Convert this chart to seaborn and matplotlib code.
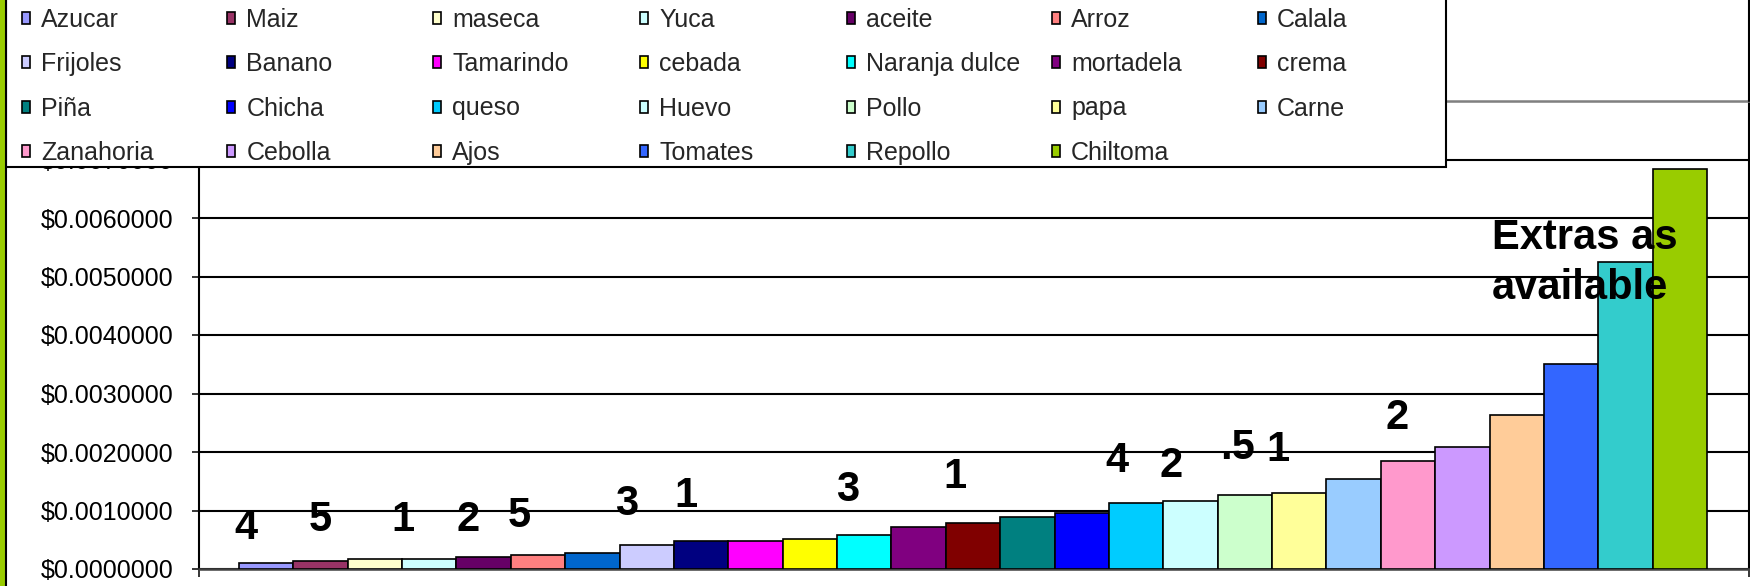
import numpy as np
import pandas as pd
import matplotlib
matplotlib.use('Agg')
import matplotlib.pyplot as plt
import seaborn as sns
from matplotlib.patches import Patch, Rectangle
from matplotlib.lines import Line2D
from matplotlib.ticker import FuncFormatter, FixedLocator

# ---------------- data ----------------
categories = ["Azucar", "Maiz", "maseca", "Yuca", "aceite", "Arroz", "Calala",
              "Frijoles", "Banano", "Tamarindo", "cebada", "Naranja dulce", "mortadela", "crema",
              "Piña", "Chicha", "queso", "Huevo", "Pollo", "papa", "Carne",
              "Zanahoria", "Cebolla", "Ajos", "Tomates", "Repollo", "Chiltoma"]
values = [0.000105, 0.000142, 0.000170, 0.000170, 0.000210, 0.000244, 0.000278,
          0.000415, 0.000477, 0.000477, 0.000511, 0.000575, 0.000715, 0.000783,
          0.000886, 0.000960, 0.001130, 0.001160, 0.001260, 0.001300, 0.001530,
          0.001850, 0.002090, 0.002630, 0.003500, 0.005250, 0.006830]
colors = ["#9999FF", "#993366", "#FFFFCC", "#CCFFFF", "#660066", "#FF8080", "#0066CC",
          "#CCCCFF", "#000080", "#FF00FF", "#FFFF00", "#00FFFF", "#800080", "#800000",
          "#008080", "#0000FF", "#00CCFF", "#CCFFFF", "#CCFFCC", "#FFFF99", "#99CCFF",
          "#FF99CC", "#CC99FF", "#FFCC99", "#3366FF", "#33CCCC", "#99CC00"]
y_ticks = [0.000, 0.001, 0.002, 0.003, 0.004, 0.005, 0.006, 0.007, 0.008]
y_tick_labels = ["$0.0000000", "$0.0010000", "$0.0020000", "$0.0030000", "$0.0040000",
                 "$0.0050000", "$0.0060000", "$0.0070000", ""]
ann_labels = ["4", "5", "1", "2", "5", "3", "1", "3", "1", "4", "2", ".5", "1", "2"]
ann_x = [-0.37, 1.0, 2.52, 3.72, 4.66, 6.636, 7.721, 10.70, 12.67, 15.65, 16.64, 17.86, 18.61, 20.80]
ann_y = [0.000700, 0.000840, 0.000840, 0.000840, 0.000905, 0.001111, 0.001248, 0.001350,
         0.001573, 0.001846, 0.001761, 0.002068, 0.002034, 0.002581]
extra_text = "Extras as\navailable"
extra_x = 22.55
extra_y = 0.005230

# ---------------- style ----------------
sns.set_theme(style='white')
plt.rcParams['font.family'] = ['Liberation Sans', 'DejaVu Sans']

W, H = 1750, 586
fig = plt.figure(figsize=(W / 100, H / 100), dpi=100)
fig.patch.set_facecolor('white')

ax_left, ax_right, ax_top, ax_bottom = 199, 1749, 101, 569
ax = fig.add_axes([ax_left / W, 1 - ax_bottom / H, (ax_right - ax_left) / W, (ax_bottom - ax_top) / H])

df = pd.DataFrame({'item': categories, 'cost': values})
sns.barplot(data=df, x='item', y='cost', hue='item', order=categories, hue_order=categories,
            palette=dict(zip(categories, colors)), saturation=1, width=1, dodge=False,
            edgecolor='black', linewidth=1.2, legend=False, ax=ax, zorder=3)

bar_px = (1707 - 239) / 27.0
x0 = -0.5 - (239 - ax_left) / bar_px
x1 = 26.5 + (ax_right - 1707) / bar_px
ax.set_xlim(x0, x1)
ax.set_ylim(0, 0.008)

ax.set_yticks(y_ticks)
ax.set_yticklabels(y_tick_labels)
ax.set_xticks([x0, x1])
ax.set_xticklabels(["", ""])
ax.set_xlabel("")
ax.set_ylabel("")
ax.tick_params(axis='y', direction='out', length=5, width=1.1, color='black',
               labelsize=18, labelcolor='black', pad=13.5, left=True)
ax.tick_params(axis='x', direction='out', length=6, width=1.1, color='black', bottom=True)
ax.set_axisbelow(True)
ax.yaxis.grid(True, color='black', linewidth=1.5)
ax.xaxis.grid(False)

for s in ['left', 'right']:
    ax.spines[s].set_color('black')
    ax.spines[s].set_linewidth(1.5)
ax.spines['bottom'].set_color('#404040')
ax.spines['bottom'].set_linewidth(1.8)
ax.spines['top'].set_color('#808080')
ax.spines['top'].set_linewidth(1.8)
for s in ax.spines.values():
    s.set_visible(True)

for lab, xx, yy in zip(ann_labels, ann_x, ann_y):
    ax.text(xx, yy, lab, fontsize=30, fontweight='bold', ha='center', va='center',
            color='black', zorder=6)
ax.text(extra_x, extra_y, extra_text, fontsize=30, fontweight='bold', ha='left',
        va='center', linespacing=1.3, color='black', zorder=6)

# ---------------- frame decorations ----------------
fig.add_artist(Rectangle((0, 0), 5 / W, 1, transform=fig.transFigure,
                         facecolor='#99CC00', edgecolor='none', zorder=10))
fig.add_artist(Line2D([6 / W, 6 / W], [0, 1], transform=fig.transFigure,
                      color='black', linewidth=1.5, zorder=10))
fig.add_artist(Line2D([1748.5 / W, 1748.5 / W], [1 - ax_top / H, 1], transform=fig.transFigure,
                      color='black', linewidth=1.5, zorder=10))

# legend box
leg_l, leg_r, leg_b = 6, 1446, 167
fig.add_artist(Rectangle((leg_l / W, 1 - leg_b / H), (leg_r - leg_l) / W, leg_b / H + 0.01,
                         transform=fig.transFigure, facecolor='white', edgecolor='black',
                         linewidth=1.5, zorder=4))

col_x = [22, 227, 433, 640, 847, 1052, 1258]
n = len(categories)
for c in range(7):
    idx = [r * 7 + c for r in range(4) if r * 7 + c < n]
    handles = [Patch(facecolor=colors[i], edgecolor='black', linewidth=1.2) for i in idx]
    labels = [categories[i] for i in idx]
    leg = fig.legend(handles, labels, loc='upper left',
                     bbox_to_anchor=(col_x[c] / W, 1 - 8 / H),
                     frameon=False, borderpad=0, borderaxespad=0,
                     handlelength=0.33, handleheight=0.36, handletextpad=0.44,
                     labelspacing=0.81, fontsize=18)
    leg.set_zorder(6)

fig.savefig('out.png', dpi=100, facecolor='white')
